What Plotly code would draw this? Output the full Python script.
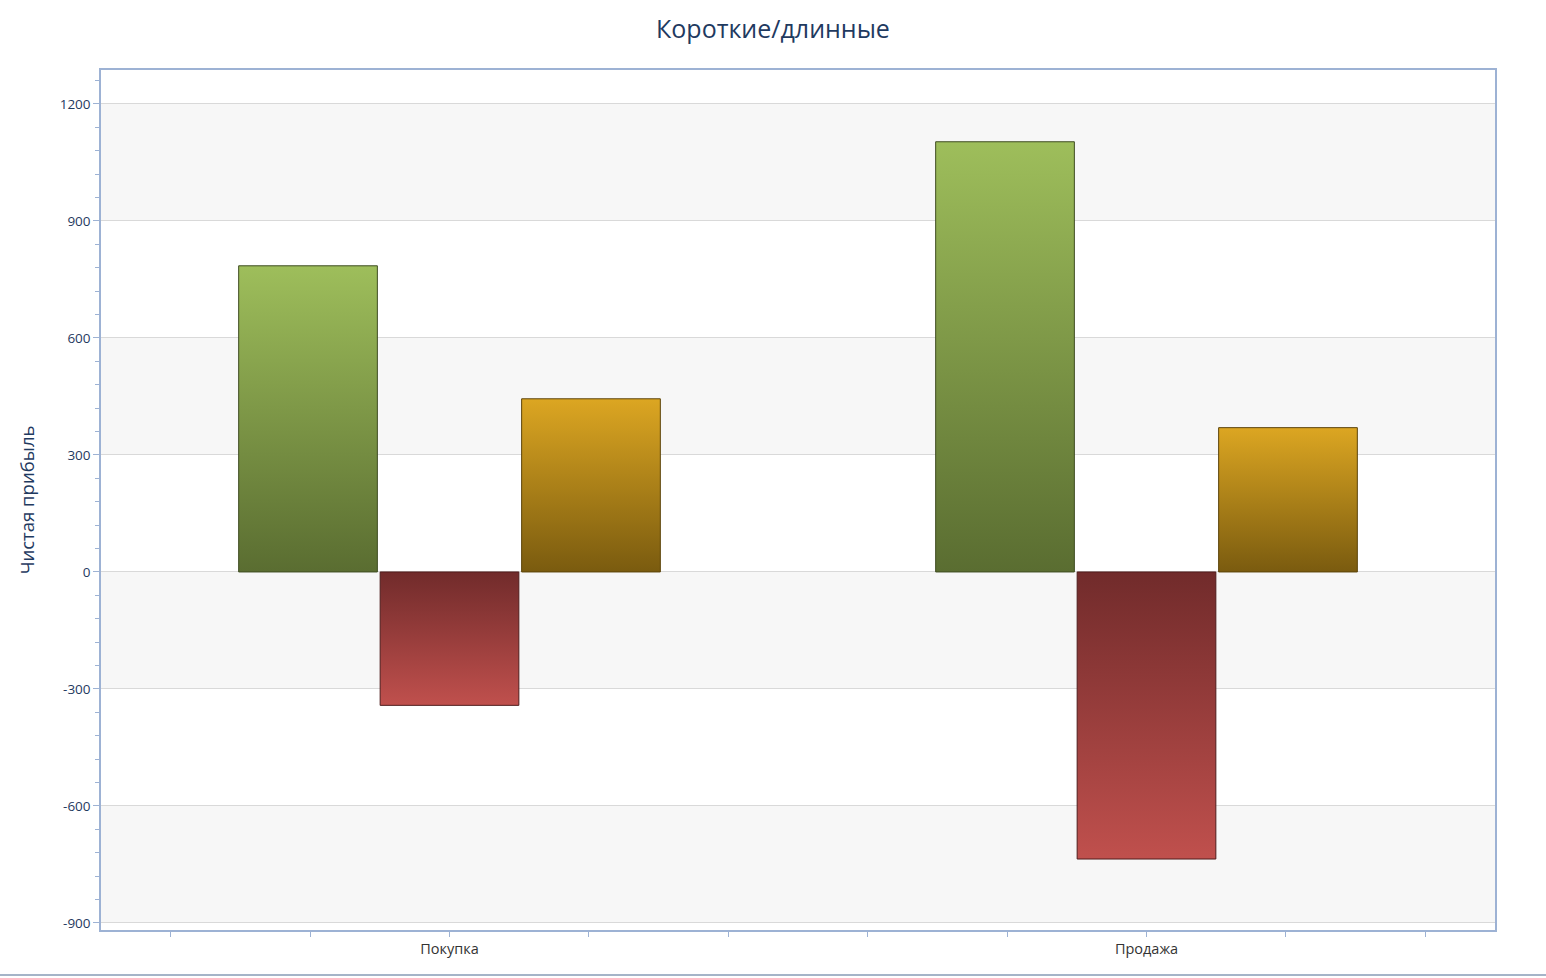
import plotly.graph_objects as go

categories = ["Покупка", "Продажа"]
series_names = ["Прибыль", "Убыток", "Итого"]
green_vals = [785, 1103]
red_vals = [-342, -736]
gold_vals = [444, 370]

title_text = "Короткие/длинные"
y_title = "Чистая прибыль"
y_ticks = [-900, -600, -300, 0, 300, 600, 900, 1200]
y_tick_text = ["-900", "-600", "-300", "0", "300", "600", "900", "1200"]

series = [
    (green_vals, [[0, "#5a6d31"], [1, "#9ebe5b"]], "#3f4d22"),
    (red_vals, [[0, "#c0504d"], [1, "#712b2b"]], "#4f1c1c"),
    (gold_vals, [[0, "#7a5b0f"], [1, "#dca622"]], "#5c440a"),
]

fig = go.Figure()

bar_w = 0.199
offsets = [-0.203, 0.0, 0.203]
for (vals, cs, edge), off, name in zip(series, offsets, series_names):
    for i, v in enumerate(vals):
        x0 = i + off - bar_w / 2
        x1 = i + off + bar_w / 2
        fig.add_trace(go.Scatter(
            x=[x0, x1, x1, x0, x0],
            y=[0, 0, v, v, 0],
            mode="lines",
            fill="toself",
            fillgradient=dict(type="vertical", colorscale=cs),
            line=dict(color=edge, width=1),
            name=name,
            showlegend=False,
            hoverinfo="skip",
        ))

# alternating bands
band_pairs = [(900, 1200), (300, 600), (-300, 0), (-900, -600)]
for y0, y1 in band_pairs:
    fig.add_shape(type="rect", xref="paper", yref="y", x0=0, x1=1, y0=y0, y1=y1,
                  fillcolor="#f7f7f7", line=dict(width=0), layer="below")

axis_col = "#9db2d4"
fig.update_layout(
    width=1546, height=978,
    margin=dict(l=101, r=51, t=70, b=48),
    paper_bgcolor="white", plot_bgcolor="white",
    font=dict(family="Open Sans, Noto Sans, sans-serif", color="#1f3a5f"),
    title=dict(text=title_text, x=0.5, xanchor="center", y=0.97, yanchor="middle",
               font=dict(size=25, color="#1f3a5f", family="Open Sans, Noto Sans, sans-serif")),
    xaxis=dict(
        range=[-0.5, 1.5], tickvals=[0, 1], ticktext=categories,
        showgrid=False, zeroline=False,
        showline=True, linecolor=axis_col, linewidth=1.5, mirror=True,
        ticks="outside", ticklen=5, tickcolor=axis_col, tickwidth=1,
        minor=dict(dtick=0.2, tick0=0, ticks="outside", ticklen=5, tickcolor=axis_col, showgrid=False),
        tickfont=dict(size=14.5, color="#333333"),
    ),
    yaxis=dict(
        range=[-918, 1287], tickvals=y_ticks, ticktext=y_tick_text,
        showgrid=True, gridcolor="#d9d9d9", gridwidth=1,
        zeroline=False,
        showline=True, linecolor=axis_col, linewidth=1.5, mirror=True,
        ticks="outside", ticklen=6, tickcolor=axis_col, tickwidth=1,
        minor=dict(dtick=60, tick0=0, ticks="outside", ticklen=4, tickcolor=axis_col, showgrid=False),
        tickfont=dict(size=13.5, color="#1f3a5f"),
        title=dict(text=y_title, font=dict(size=18.5, color="#1f3a5f"), standoff=20),
    ),
)

fig.add_shape(type="line", xref="paper", yref="paper",
              x0=-101/1394, x1=1 + 51/1394, y0=-45/860, y1=-45/860,
              line=dict(color="#a5b4c8", width=2))

fig.write_html("out.html")
